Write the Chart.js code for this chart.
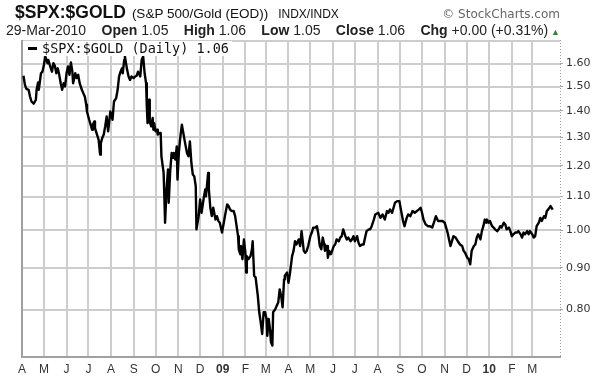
<!DOCTYPE html>
<html><head><meta charset="utf-8">
<script src="https://cdn.jsdelivr.net/npm/chart.js@4/dist/chart.umd.min.js"></script>
<style>
html,body{margin:0;padding:0;background:#fff;}
#wrap{position:relative;width:614px;height:379px;overflow:hidden;font-family:"Liberation Sans",Arial,sans-serif;color:#111;}
#c{position:absolute;left:0;top:0;}
#t1{position:absolute;left:15px;top:2px;line-height:20px;white-space:nowrap;}
#t1 .big{font-weight:bold;font-size:17.5px;}
#t1 .mid{font-size:13.5px;margin-left:6px;}
#t1 .sm{font-size:12px;margin-left:10px;}
#copy{position:absolute;right:54px;top:7px;line-height:14px;font-family:"DejaVu Sans",sans-serif;font-size:12px;color:#666;white-space:nowrap;}
#t2{position:absolute;left:6px;width:554px;top:22px;height:17px;line-height:16px;font-size:14px;display:flex;justify-content:space-between;align-items:baseline;white-space:nowrap;color:#222;}
#t2 b{font-weight:bold;}
#t2 .up{color:#2b8a2b;font-size:9px;margin-left:3px;}
#leg{position:absolute;left:23px;top:41px;width:209px;height:15px;background:#fff;z-index:2;}
#leg .dash{position:absolute;left:5px;top:6px;width:9px;height:3px;background:#000;}
#leg .txt{position:absolute;left:19px;top:0px;line-height:15px;font-family:"DejaVu Sans Mono",monospace;font-size:13.5px;color:#111;white-space:nowrap;}
</style></head>
<body>
<div id="wrap">
<canvas id="c" width="614" height="379"></canvas>
<div id="t1"><span class="big">$SPX:$GOLD</span><span class="mid">(S&amp;P 500/Gold (EOD))</span><span class="sm">INDX/INDX</span></div>
<div id="copy">© StockCharts.com</div>
<div id="t2"><span>29-Mar-2010</span><span><b>Open</b> 1.05</span><span><b>High</b> 1.06</span><span><b>Low</b> 1.05</span><span><b>Close</b> 1.06</span><span><b>Chg</b> +0.00 (+0.31%)<span class="up">▲</span></span></div>
<div id="leg"><span class="dash"></span><span class="txt">$SPX:$GOLD (Daily) 1.06</span></div>
</div>
<script>
// x: days since 1-Apr-2008 ; y: $SPX:$GOLD ratio
const tradeDays = [
 2,4,6,9,11,13,16,19,20,22,23,26,28,30,32,35,36,38,41,43,45,47,49,51,53,55,57,59,61,63,
 65,67,69,70,73,75,77,79,82,84,86,88,89,92,94,96,97,99,100,102,105,107,108,110,112,114,116,118,121,123,124,
 126,129,131,133,135,137,138,140,141,144,146,148,150,153,155,157,159,162,164,166,
 168,170,171,172,174,175,177,179,180,181,183,185,186,188,190,191,194,195,196,198,
 200,201,203,205,207,208,210,212,213,215,217,219,221,223,226,228,230,232,234,236,
 238,239,242,244,246,249,
 251,252,255,256,258,260,262,265,267,269,271,274,276,278,281,283,285,287,290,292,
 294,296,297,299,300,302,304,306,307,308,310,313,315,316,318,320,323,325,327,329,
 331,333,335,336,338,340,341,343,344,347,349,351,353,355,357,359,360,363,365,367,
 370,372,374,376,379,381,383,386,388,390,392,395,397,399,402,404,406,408,410,412,
 414,415,418,419,421,423,424,427,429,431,434,436,438,440,443,445,447,450,452,454,
 456,459,461,463,466,468,470,472,475,477,479,482,484,
 488,491,494,497,500,502,504,507,509,511,514,517,519,522,524,527,529,532,535,538,
 541,544,546,548,550,553,556,559,562,565,567,570,573,576,579,581,583,585,587,589,
 591,594,597,600,603,605,607,610,612,614,
 616,619,621,623,625,628,630,632,634,636,637,639,641,644,646,648,651,653,655,657,
 660,662,664,667,669,671,673,676,678,680,683,685,687,689,692,694,696,699,701,703,
 705,708,710,712,715,717,719,721,724,727
];
const ratioValues = [
 1.546,1.507,1.490,1.486,1.458,1.438,1.429,1.445,1.486,1.517,1.486,1.557,1.564,1.594,1.632,1.602,1.617,1.594,1.564,1.602,
 1.590,1.557,1.579,1.550,1.514,1.486,1.514,1.500,1.557,1.587,1.550,1.605,1.564,1.514,1.557,1.536,1.550,1.514,1.486,1.472,
 1.458,1.425,1.398,1.366,1.347,1.328,1.347,1.359,1.334,1.316,1.291,1.238,1.279,1.298,1.310,1.341,1.379,1.322,1.398,1.379,1.366,
 1.438,1.452,1.486,1.543,1.564,1.579,1.557,1.617,1.632,1.572,1.543,1.528,1.543,1.536,1.543,1.546,1.564,1.543,1.617,1.632,
 1.557,1.514,1.418,1.353,1.445,1.359,1.341,1.373,1.328,1.353,1.322,1.328,1.310,1.316,1.316,1.232,1.176,1.101,1.022,1.122,
 1.187,1.081,1.181,1.244,1.227,1.244,1.221,1.267,1.154,1.250,1.303,1.347,1.316,1.285,1.244,1.232,1.285,1.210,1.170,1.165,
 1.133,1.003,1.041,1.091,1.051,1.096,
 1.122,1.101,1.176,1.122,1.066,1.041,1.066,1.031,1.041,1.027,1.022,0.994,1.017,1.041,1.076,1.071,1.061,1.056,1.056,1.041,
 1.012,0.984,0.948,0.935,0.957,0.922,0.975,0.939,0.888,0.930,0.922,0.930,0.948,0.970,0.880,0.876,0.832,0.794,0.772,0.747,
 0.794,0.794,0.779,0.743,0.779,0.754,0.730,0.723,0.794,0.801,0.809,0.816,0.847,0.832,0.805,0.871,0.880,0.888,0.863,0.885,
 0.930,0.944,0.970,0.961,0.975,0.957,0.998,0.944,0.939,0.944,0.957,0.984,0.994,1.008,1.008,1.012,0.989,0.957,0.948,0.980,
 0.961,0.944,0.957,0.926,0.944,0.935,0.939,0.957,0.961,0.975,0.970,0.980,0.984,1.003,0.984,0.975,0.980,0.970,0.975,0.984,
 0.970,0.984,0.966,0.957,0.961,0.961,0.980,0.998,1.003,1.003,1.012,1.031,1.046,
 1.051,1.036,1.046,1.031,1.056,1.051,1.061,1.051,1.066,1.081,1.086,1.086,1.061,1.027,1.012,1.036,1.046,1.041,1.056,1.051,
 1.056,1.061,1.066,1.051,1.031,1.017,1.012,1.012,1.008,1.027,1.041,1.027,1.027,1.027,1.022,1.008,0.994,0.975,0.957,0.970,
 0.984,0.980,0.970,0.961,0.957,0.944,0.939,0.926,0.922,0.909,
 0.944,0.957,0.961,0.980,0.989,0.975,0.998,1.012,1.031,1.022,1.031,1.022,1.027,1.012,1.008,1.003,0.998,1.003,1.012,1.008,
 1.022,1.017,1.003,1.008,0.998,0.984,0.989,0.994,0.994,0.998,0.989,0.980,0.994,0.989,0.998,0.989,0.998,0.989,0.980,0.984,
 1.012,1.022,1.036,1.027,1.041,1.036,1.056,1.061,1.071,1.060
];
const monthStarts = [0,30,61,91,122,153,183,214,244,275,306,334,365,395,426,456,487,518,548,579,609,640,671,699];
const monthLabels = ['A','M','J','J','A','S','O','N','D','09','F','M','A','M','J','J','A','S','O','N','D','10','F','M'];
const priceTicks = [0.80,0.90,1.00,1.10,1.20,1.30,1.40,1.50,1.60];

const pts = tradeDays.map((d,i)=>({x:d,y:ratioValues[i]}));

const GRID = '#cdcdcd';

// price grid + light top frame, painted behind everything already drawn
const priceGrid = {
  id:'priceGrid',
  afterDraw(ch){
    const {ctx,scales} = ch;
    const xs = scales.x, ys = scales.y;
    const x0 = Math.round(xs.left), w = Math.round(xs.right) - x0;
    ctx.save();
    ctx.globalCompositeOperation = 'destination-over';
    ctx.fillStyle = GRID;
    ys.ticks.forEach(t=>{ const py = Math.round(ys.getPixelForValue(t.value)); ctx.fillRect(x0, py-1, w, 2); });
    ctx.fillRect(x0, Math.round(ys.top), w, 2);
    ctx.restore();
    ctx.save();
    ctx.strokeStyle='#a0a0a0'; ctx.lineWidth=1; ctx.setLineDash([1,2]);
    ctx.beginPath(); ctx.moveTo(Math.round(xs.right)+0.5, ys.top); ctx.lineTo(Math.round(xs.right)+0.5, ys.bottom); ctx.stroke();
    ctx.restore();
  }
};

new Chart(document.getElementById('c'), {
  type:'line',
  data:{datasets:[{data:pts,borderColor:'#000',borderWidth:2.4,pointRadius:0,tension:0,fill:false,borderJoinStyle:'round'}]},
  options:{
    responsive:false, animation:false,
    layout:{padding:{left:22,top:40,right:0,bottom:0}},
    plugins:{legend:{display:false},tooltip:{enabled:false}},
    scales:{
      x:{type:'linear',min:0,max:737,
        afterBuildTicks(s){ s.ticks = monthStarts.map(v=>({value:v})); },
        afterFit(s){ s.height = 22; },
        grid:{display:true,drawOnChartArea:true,color:(c)=>c.index===0?'#a0a0a0':GRID,lineWidth:2,drawTicks:false},
        border:{display:true,color:'#a0a0a0',width:2},
        ticks:{autoSkip:false,maxRotation:0,padding:5,color:'#333',
          font:(c)=>({family:'"Liberation Sans", Arial, sans-serif',size:12,weight:/\d/.test(monthLabels[c.index]||'')?'bold':'normal'}),
          callback:(v,i)=>monthLabels[i]}
      },
      y:{type:'logarithmic',position:'right',min:0.702,max:1.71,
        afterBuildTicks(s){ s.ticks = priceTicks.map(v=>({value:v})); },
        afterFit(s){ s.width = 54; },
        grid:{display:true,drawOnChartArea:false,drawTicks:true,tickLength:3,tickColor:'#a8a8a8',tickWidth:1},
        border:{display:false},
        ticks:{padding:3,color:'#333',font:{family:'"DejaVu Sans", sans-serif',size:11},
          callback:(v)=>Number(v).toFixed(2)}
      }
    }
  },
  plugins:[priceGrid]
});
</script>
</body></html>
